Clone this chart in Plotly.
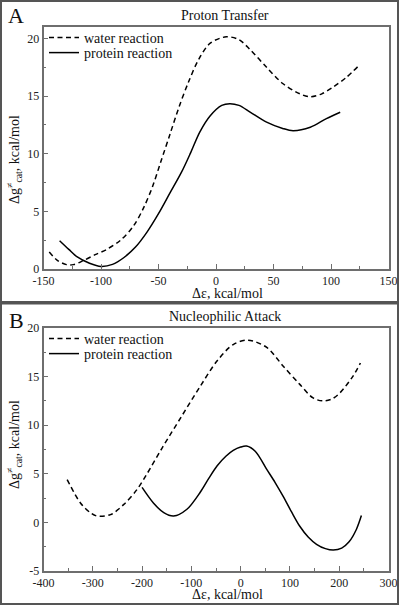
import plotly.graph_objects as go

# Panel A: Proton Transfer
a_water_x = [-145, -138, -130, -124, -115, -105, -95, -83, -72, -63, -55, -48, -40, -32, -24, -15, -5, 9, 20, 30, 44, 58, 73, 82, 92, 102, 113, 123.7]
a_water_y = [1.47, 0.75, 0.38, 0.38, 0.75, 1.25, 1.7, 2.5, 3.7, 5.3, 7.2, 9.3, 11.7, 14.1, 16.2, 18.2, 19.6, 20.15, 19.9, 19.0, 17.5, 16.1, 15.2, 14.95, 15.2, 15.8, 16.6, 17.6]
a_prot_x = [-136, -128, -121, -110, -100, -90, -80, -70, -60, -50, -40, -30, -22, -14, -5, 5, 12, 20, 30, 44, 58, 67, 82, 96, 108]
a_prot_y = [2.45, 1.7, 1.07, 0.5, 0.22, 0.4, 1.0, 1.9, 3.2, 4.8, 6.6, 8.4, 10.1, 11.9, 13.3, 14.2, 14.35, 14.2, 13.6, 12.75, 12.2, 12.0, 12.3, 13.05, 13.6]

# Panel B: Nucleophilic Attack
b_water_x = [-352, -325, -305, -291, -264, -237, -210, -190, -160, -120, -82, -48, -15, 15, 53, 86, 120, 147, 167, 185, 201, 228, 243]
b_water_y = [4.4, 2.0, 1.0, 0.65, 0.8, 1.85, 3.4, 5.0, 7.6, 10.9, 14.0, 16.6, 18.3, 18.75, 18.0, 16.1, 14.2, 12.8, 12.5, 12.7, 13.3, 15.05, 16.4]
b_prot_x = [-200, -177, -156, -136, -109, -82, -65, -48, -30, -15, 0, 12, 30, 53, 70, 86, 103, 120, 137, 154, 172, 188, 205, 220, 235, 245]
b_prot_y = [3.6, 2.0, 1.0, 0.65, 1.35, 3.1, 4.5, 5.8, 6.8, 7.4, 7.75, 7.85, 7.3, 5.45, 4.1, 2.7, 1.1, -0.4, -1.5, -2.25, -2.7, -2.85, -2.65, -2.0, -0.7, 0.7]

a_xticks = [-150, -100, -50, 0, 50, 100, 150]
a_xlabels = ["-150", "-100", "-50", "0", "50", "100", "150"]
a_yticks = [0, 5, 10, 15, 20]
b_xticks = [-400, -300, -200, -100, 0, 100, 200, 300]
b_xlabels = ["-400", "-300", "-200", "-100", "0", "100", "200", "300"]
b_yticks = [-5, 0, 5, 10, 15, 20]
b_ylabels = ["-5", "0", "5", "10", "15", "20"]

W, H = 400, 605
FONT = "Liberation Serif, Times New Roman, serif"
AX = "#6e6e6e"


def px(x):
    return x / W


def py(y):
    return 1 - y / H


fig = go.Figure()
dash = "5px,3.5px"
SM = 0.9
fig.add_trace(go.Scatter(x=a_water_x, y=a_water_y, mode="lines",
                         line=dict(color="black", width=1.5, dash=dash, shape="spline", smoothing=SM),
                         name="water reaction", xaxis="x", yaxis="y", legend="legend"))
fig.add_trace(go.Scatter(x=a_prot_x, y=a_prot_y, mode="lines",
                         line=dict(color="black", width=1.5, shape="spline", smoothing=SM),
                         name="protein reaction", xaxis="x", yaxis="y", legend="legend2"))
fig.add_trace(go.Scatter(x=b_water_x, y=b_water_y, mode="lines",
                         line=dict(color="black", width=1.5, dash=dash, shape="spline", smoothing=SM),
                         name="water reaction", xaxis="x2", yaxis="y2", legend="legend3"))
fig.add_trace(go.Scatter(x=b_prot_x, y=b_prot_y, mode="lines",
                         line=dict(color="black", width=1.5, shape="spline", smoothing=SM),
                         name="protein reaction", xaxis="x2", yaxis="y2", legend="legend4"))

xdom = [px(43.5), px(388.5)]


def axis(rng, ticks, labels, minor, dom, anchor):
    return dict(range=rng, tickvals=ticks, ticktext=labels, ticks="inside", ticklen=5, tickcolor=AX, tickwidth=1,
                minor=dict(dtick=minor, ticks="inside", ticklen=3, tickcolor=AX),
                showline=True, linecolor=AX, linewidth=1.5, mirror=True, showgrid=False, zeroline=False,
                domain=dom, anchor=anchor, tickfont=dict(family=FONT, size=12, color="#222"), automargin=False)


def leg(x, ytop):
    return dict(x=px(x), y=py(ytop), xanchor="left", yanchor="top", bgcolor="rgba(0,0,0,0)",
                font=dict(family=FONT, size=14, color="#111"), itemwidth=30)


fig.update_layout(
    width=W, height=H, margin=dict(l=0, r=0, t=0, b=0),
    paper_bgcolor="white", plot_bgcolor="white",
    font=dict(family=FONT, color="#111"),
    xaxis=axis([-150, 150], a_xticks, a_xlabels, 25, xdom, "y"),
    yaxis=axis([0, 21], a_yticks, [str(v) for v in a_yticks], 2.5, [py(269), py(27)], "x"),
    xaxis2=axis([-400, 300], b_xticks, b_xlabels, 50, xdom, "y2"),
    yaxis2=axis([-5, 20], b_yticks, b_ylabels, 2.5, [py(571), py(328)], "x2"),
    legend=leg(44, 22),
    legend2=leg(44, 37),
    legend3=leg(44, 323),
    legend4=leg(44, 338),
    showlegend=True,
)

ann = []


def text(x, y, s, size, angle=0):
    ann.append(dict(x=px(x), y=py(y), xref="paper", yref="paper", text=s, showarrow=False,
                    font=dict(family=FONT, size=size, color="#111"), textangle=angle,
                    xanchor="center", yanchor="middle"))


text(16, 16, "A", 22)
text(16, 320, "B", 22)
text(225, 15, "Proton Transfer", 14)
text(225, 316, "Nucleophilic Attack", 14)
text(228, 293, "Δε, kcal/mol", 14)
text(228, 594, "Δε, kcal/mol", 14)
ytitle = "Δg<sup>≠</sup><sub>cat</sub>, kcal/mol"
text(14, 160, ytitle, 14, -90)
text(14, 445, ytitle, 14, -90)
fig.update_layout(annotations=ann)

# panel frames
fig.add_shape(type="rect", xref="paper", yref="paper", x0=px(1), x1=px(398), y0=py(302), y1=py(1),
              line=dict(color="#555", width=2))
fig.add_shape(type="rect", xref="paper", yref="paper", x0=px(1), x1=px(398), y0=py(604), y1=py(303.5),
              line=dict(color="#555", width=2))

fig.write_html("out.html", config={"displayModeBar": False},
               post_script="document.body.style.margin='0';document.body.style.overflow='hidden';")
